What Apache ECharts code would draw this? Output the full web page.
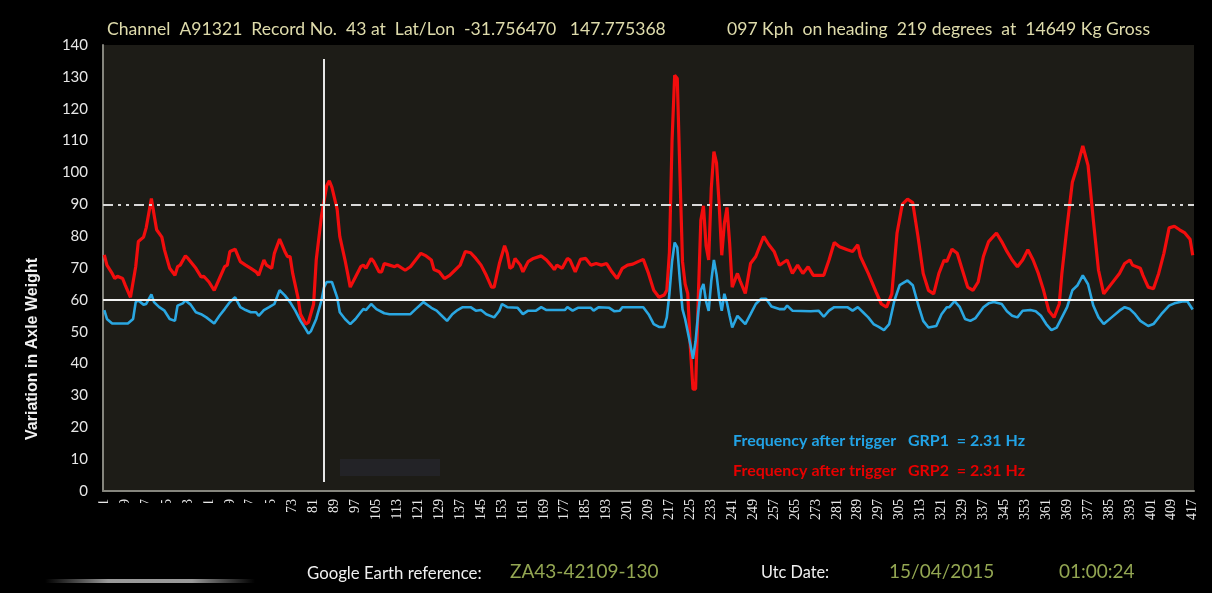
<!DOCTYPE html>
<html>
<head>
<meta charset="utf-8">
<script src="https://cdn.jsdelivr.net/npm/echarts@6/dist/echarts.min.js"></script>
<style>
  html, body { margin: 0; padding: 0; background: #000; }
  #chart { width: 1212px; height: 593px; }
</style>
</head>
<body>
<div id="chart"></div>
<script>
// Record numbers along the run (category axis, 1..417)
const recordCount = 417;
const records = [];
for (let r = 1; r <= recordCount; r++) records.push(String(r));

// Axle weight variation, GRP2 (red) : [record, value]
const grp2 = [
  [1,74.1],[2,70.9],[4,68.3],[5,66.7],[6,67.4],[8,66.7],[9,64.6],[11,60.8],[13,70.4],[14,78.3],
  [16,79.7],[17,82.6],[19,91.8],[20,86.8],[21,82.0],[23,79.7],[24,75.7],[26,69.9],[28,67.7],[29,70.4],
  [30,70.9],[32,73.8],[33,73.0],[36,69.9],[38,67.2],[39,67.4],[41,65.6],[43,63.0],[45,66.7],[47,70.4],
  [48,70.9],[49,75.2],[51,75.9],[53,72.0],[55,70.9],[57,69.9],[59,68.8],[60,67.7],[62,72.5],[63,70.9],
  [65,69.9],[66,74.6],[68,79.1],[70,75.2],[71,73.6],[72,73.6],[73,68.3],[75,60.8],[76,55.5],[78,52.4],
  [79,52.9],[81,58.7],[82,72.5],[84,86.3],[86,95.8],[87,97.4],[88,95.3],[90,88.4],[91,79.9],[93,72.5],
  [94,68.3],[95,64.0],[97,67.2],[99,70.4],[100,70.9],[101,69.9],[103,73.0],[104,72.0],[106,68.8],[107,68.8],
  [108,71.4],[110,70.9],[112,70.4],[113,70.9],[116,69.3],[118,70.4],[120,72.5],[122,74.6],[124,73.8],[126,72.5],
  [127,69.5],[129,68.8],[131,66.7],[133,67.7],[135,69.3],[137,70.9],[139,75.2],[141,74.8],[143,73.0],[145,70.9],
  [147,67.7],[149,64.0],[150,64.0],[152,71.4],[154,77.0],[155,74.6],[156,69.9],[157,70.4],[158,73.0],[160,70.9],
  [161,68.8],[163,72.0],[165,73.0],[168,73.8],[170,72.5],[172,70.6],[173,69.5],[174,70.9],[176,69.9],[178,73.0],
  [179,72.5],[181,68.8],[183,72.7],[185,73.0],[187,70.9],[189,71.4],[191,70.9],[193,71.4],[195,68.8],[197,66.7],
  [199,69.9],[201,70.9],[203,71.2],[205,72.0],[207,72.7],[209,68.3],[211,63.0],[213,60.8],[215,61.5],[216,63.0],
  [217,75.0],[218,110.0],[219,130.5],[220,129.5],[221,100.0],[222,72.0],[223,65.0],[224,62.0],[225,45.0],[226,32.0],
  [227,32.0],[228,60.0],[229,85.0],[230,89.5],[231,77.0],[232,72.5],[233,95.0],[234,106.5],[235,103.0],[236,90.0],
  [237,74.0],[238,84.0],[239,89.0],[240,78.0],[241,64.0],[243,68.3],[244,66.0],[246,62.0],[248,71.4],[250,73.6],
  [253,79.9],[255,77.3],[257,75.2],[259,70.9],[260,71.4],[262,72.5],[264,68.3],[266,70.9],[268,68.3],[270,70.4],
  [272,67.7],[276,67.7],[278,72.5],[280,78.0],[282,76.7],[285,75.7],[287,75.2],[289,77.3],[290,73.6],[293,68.3],
  [296,62.4],[298,58.7],[300,57.7],[302,61.9],[304,81.0],[306,90.0],[308,91.6],[310,90.5],[312,79.9],[314,68.3],
  [316,63.0],[318,61.9],[320,68.3],[322,72.5],[323,72.0],[325,75.9],[327,74.6],[329,69.3],[331,64.0],[333,63.0],
  [335,65.6],[337,73.6],[339,78.3],[342,81.0],[344,78.3],[346,75.2],[348,72.5],[350,70.4],[352,72.5],[354,75.7],
  [356,72.5],[358,68.3],[360,63.0],[362,56.6],[364,54.5],[366,58.7],[367,68.3],[369,83.1],[371,96.9],[373,102.2],
  [375,108.3],[377,102.2],[379,85.2],[381,69.3],[383,61.9],[386,65.1],[389,68.3],[391,71.4],[393,72.5],[394,70.9],
  [397,69.9],[398,67.7],[400,64.0],[402,63.5],[404,68.3],[406,74.6],[408,82.6],[410,83.1],[412,82.0],[414,81.0],
  [416,79.0],[417,74.0]
];

// Axle weight variation, GRP1 (blue) : [record, value]
const grp1 = [
  [1,56.8],[2,54.0],[4,52.6],[10,52.6],[12,54.0],[13,59.3],[14,59.8],[16,58.5],[17,58.7],[19,61.7],
  [20,59.3],[22,57.7],[24,56.6],[26,54.0],[28,53.4],[29,58.2],[31,58.9],[32,59.8],[34,58.5],[36,56.1],
  [38,55.5],[40,54.5],[43,52.6],[45,55.0],[47,57.1],[49,59.3],[51,60.8],[53,57.7],[55,56.8],[57,56.1],
  [59,56.1],[60,55.0],[62,56.8],[64,57.7],[66,58.7],[68,63.0],[70,61.4],[72,59.3],[74,56.6],[76,53.4],
  [78,50.8],[79,49.4],[80,50.2],[82,54.0],[84,59.8],[85,64.0],[86,65.6],[88,65.6],[90,60.8],[91,56.1],
  [93,54.0],[95,52.4],[97,54.0],[99,56.1],[100,57.1],[101,56.8],[103,58.7],[105,57.1],[108,55.8],[110,55.5],
  [118,55.5],[120,57.1],[123,59.3],[126,57.5],[128,56.6],[130,55.0],[132,53.4],[134,55.5],[136,56.8],[138,57.7],
  [141,57.7],[143,56.6],[145,56.8],[147,55.5],[150,54.5],[152,56.6],[153,58.7],[155,57.7],[159,57.5],[161,55.5],
  [163,56.6],[166,56.6],[168,57.7],[170,56.8],[177,56.8],[178,57.7],[180,56.6],[182,57.5],[187,57.5],[188,56.6],
  [190,57.7],[194,57.5],[196,56.4],[198,56.6],[199,57.7],[202,57.7],[207,57.7],[209,55.5],[211,52.4],[213,51.5],
  [215,51.5],[216,54.5],[217,62.0],[218,72.0],[219,78.0],[220,76.5],[221,66.0],[222,57.0],[223,54.0],[224,50.0],
  [225,46.0],[226,41.5],[227,47.0],[228,56.0],[229,63.0],[230,65.0],[231,59.5],[232,56.5],[233,66.0],[234,72.5],
  [235,68.0],[236,61.0],[237,56.6],[238,61.9],[239,59.0],[240,55.0],[241,51.3],[243,55.0],[246,52.4],[248,55.5],
  [250,58.7],[252,60.3],[254,60.3],[256,57.9],[259,57.1],[261,57.1],[262,58.2],[264,56.6],[271,56.4],[274,56.6],
  [276,54.7],[278,56.6],[280,57.7],[285,57.7],[287,56.6],[289,57.7],[291,56.1],[293,54.5],[295,52.4],[297,51.5],
  [299,50.5],[301,52.4],[303,59.8],[305,64.6],[308,66.1],[310,64.6],[312,58.7],[314,53.4],[316,51.3],[319,51.8],
  [321,55.5],[323,57.7],[324,57.7],[326,59.6],[328,57.7],[330,54.0],[332,53.4],[334,54.3],[337,57.7],[339,58.9],
  [341,59.3],[344,58.7],[346,56.4],[348,55.0],[350,54.5],[352,56.6],[355,56.8],[357,56.4],[359,55.0],[361,52.4],
  [363,50.5],[365,51.3],[367,54.5],[369,57.7],[371,63.0],[373,64.6],[375,67.7],[377,64.9],[379,58.2],[381,54.5],
  [383,52.4],[386,54.5],[389,56.6],[391,57.7],[393,57.1],[395,55.5],[397,53.4],[400,51.8],[402,52.4],[405,55.5],
  [408,58.2],[410,58.9],[413,59.5],[415,59.5],[417,57.0]
];

// Reference levels and trigger position
const lowerLimit = 60;
const upperLimit = 90;
const triggerRecord = 85;
const triggerSpan = [135.6, 2.8];

const headerLeft = 'Channel  A91321  Record No.  43 at  Lat/Lon  -31.756470   147.775368';
const headerRight = '097 Kph  on heading  219 degrees  at  14649 Kg Gross';
const freqGrp1 = 'Frequency after trigger   GRP1  = 2.31 Hz';
const freqGrp2 = 'Frequency after trigger   GRP2  = 2.31 Hz';
const yName = 'Variation in Axle Weight';

const toSeries = pts => pts.map(p => [p[0] - 1, p[1]]);

const chart = echarts.init(document.getElementById('chart'), null, { renderer: 'canvas' });

const sans = 'Lato, "Open Sans", sans-serif';

chart.setOption({
  backgroundColor: '#000000',
  animation: false,
  grid: {
    left: 103, right: 18, top: 45, bottom: 102,
    show: true, backgroundColor: '#1d1c17', borderWidth: 0
  },
  xAxis: {
    type: 'category',
    data: records,
    boundaryGap: true,
    axisLine: { show: true, lineStyle: { color: '#85857d', width: 2 } },
    axisTick: { show: false },
    axisLabel: {
      interval: 7, rotate: 90, color: '#e8e8e8', fontSize: 14,
      fontFamily: '"Liberation Serif", "DejaVu Serif", serif', margin: 8
    },
    splitLine: { show: false }
  },
  yAxis: {
    type: 'value', min: 0, max: 140, interval: 10,
    axisLine: { show: true, lineStyle: { color: '#85857d', width: 2 } },
    axisTick: { show: false },
    axisLabel: { color: '#e6e6e6', fontSize: 15, fontFamily: sans, margin: 15 },
    splitLine: { show: false }
  },
  series: [
    {
      name: 'GRP2', type: 'line', data: toSeries(grp2), showSymbol: false, smooth: false,
      lineStyle: { color: '#f20d0d', width: 3.2 }, z: 3,
      markLine: {
        silent: true, symbol: 'none', label: { show: false },
        data: [
          { yAxis: upperLimit, lineStyle: { color: '#d9d9d9', width: 2, type: [10, 5, 3, 5, 3, 5] } },
          { yAxis: lowerLimit, lineStyle: { color: '#f2f2f2', width: 2, type: 'solid' } },
          [
            { coord: [triggerRecord - 1, triggerSpan[0]], lineStyle: { color: '#e6e6e6', width: 2, type: 'solid' } },
            { coord: [triggerRecord - 1, triggerSpan[1]] }
          ]
        ]
      }
    },
    {
      name: 'GRP1', type: 'line', data: toSeries(grp1), showSymbol: false, smooth: false,
      lineStyle: { color: '#2aa7e2', width: 2.6 }, z: 4
    }
  ],
  graphic: [
    { type: 'text', left: 107, top: 20, z: 50,
      style: { text: headerLeft, fill: '#dedbab', font: '17.6px ' + sans } },
    { type: 'text', left: 727, top: 20, z: 50,
      style: { text: headerRight, fill: '#dedbab', font: '17.6px ' + sans } },
    { type: 'text', x: 33, y: 349, rotation: Math.PI / 2, z: 50,
      style: { text: yName, fill: '#f0f0f0', font: 'bold 16px "Liberation Sans", Arial, sans-serif',
               align: 'center', verticalAlign: 'middle' } },
    { type: 'text', left: 733, top: 433, z: 50,
      style: { text: freqGrp1, fill: '#22a3e6', font: 'bold 16px ' + sans } },
    { type: 'text', left: 733, top: 463, z: 50,
      style: { text: freqGrp2, fill: '#e60000', font: 'bold 16px ' + sans } },
    // faint patch inside the plot area
    { type: 'rect', shape: { x: 340, y: 459, width: 100, height: 17 }, z: 1,
      style: { fill: '#232327' } },
    // strip hiding the lower part of the first record labels
    { type: 'rect', shape: { x: 95, y: 503, width: 189, height: 40 }, z: 60,
      style: { fill: '#000000' } },
    // bottom information line
    { type: 'text', left: 307, top: 565, z: 50,
      style: { text: 'Google Earth reference:', fill: '#f0f0f0', font: '16.8px ' + sans } },
    { type: 'text', left: 510, top: 562, z: 50,
      style: { text: 'ZA43-42109-130', fill: '#93a652', font: '19px ' + sans } },
    { type: 'text', left: 761, top: 565, z: 50,
      style: { text: 'Utc Date:', fill: '#f0f0f0', font: '16.3px ' + sans } },
    { type: 'text', left: 889, top: 562, z: 50,
      style: { text: '15/04/2015', fill: '#93a652', font: '19px ' + sans } },
    { type: 'text', left: 1059, top: 562, z: 50,
      style: { text: '01:00:24', fill: '#93a652', font: '19px ' + sans } },
    { type: 'rect', shape: { x: 45, y: 579, width: 210, height: 4 }, z: 50,
      style: { fill: new echarts.graphic.LinearGradient(0, 0, 1, 0, [
        { offset: 0, color: 'rgba(150,150,150,0)' },
        { offset: 0.3, color: 'rgba(170,170,170,0.9)' },
        { offset: 0.7, color: 'rgba(170,170,170,0.9)' },
        { offset: 1, color: 'rgba(150,150,150,0)' }
      ]) } }
  ]
});
</script>
</body>
</html>
